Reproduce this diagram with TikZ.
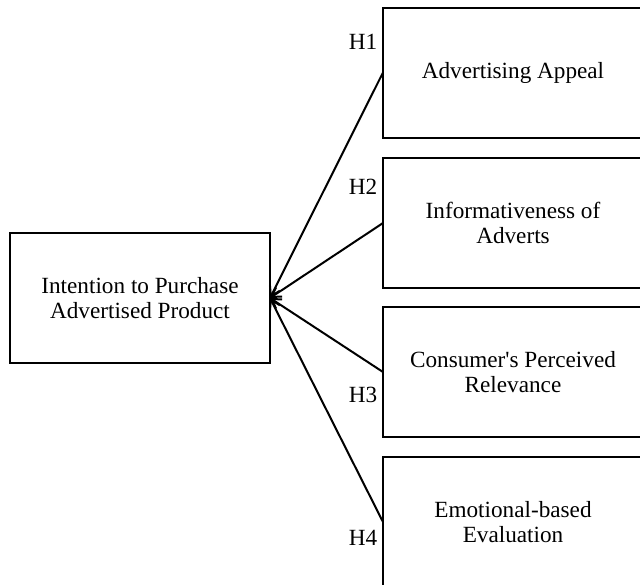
\documentclass[tikz,border=0pt]{standalone}
\usepackage{fontspec}
\setmainfont{Liberation Serif}
\usetikzlibrary{arrows.meta}

\begin{document}
\begin{tikzpicture}[
  x=0.5pt, y=-0.5pt,
  >={Straight Barb[length=4.5pt,width=5.5pt]},
  varbox/.style={draw, line width=1pt, inner sep=0pt, outer sep=0pt,
    minimum width=130pt, minimum height=65pt, align=center,
    font=\fontsize{11.6}{12.5}\selectfont},
  hyplab/.style={font=\fontsize{11.6}{12.5}\selectfont},
  path/.style={->, line width=1pt}
]
\useasboundingbox (0,0) rectangle (640,584);
\clip (0,0) rectangle (640,584);
% ---- dependent variable ----
\node[varbox] (purchase) at (140,298)
  {Intention to Purchase\\Advertised Product};
% ---- predictors ----
\node[varbox] (appeal)  at (513,72.5) {Advertising Appeal};
\node[varbox] (inform)  at (513,223)  {Informativeness of\\Adverts};
\node[varbox] (relev)   at (513,372)  {Consumer\textquotesingle s Perceived\\Relevance};
\node[varbox] (emotion) at (513,522)  {Emotional-based\\Evaluation};
% ---- hypothesised paths ----
\draw[path] (appeal.west)  -- (purchase.east);
\draw[path] (inform.west)  -- (purchase.east);
\draw[path] (relev.west)   -- (purchase.east);
\draw[path] (emotion.west) -- (purchase.east);
% ---- hypothesis labels ----
\node[hyplab] (h1) at (363,42)  {H1};
\node[hyplab] (h2) at (363,187) {H2};
\node[hyplab] (h3) at (363,395) {H3};
\node[hyplab] (h4) at (363,538) {H4};
\end{tikzpicture}
\end{document}
